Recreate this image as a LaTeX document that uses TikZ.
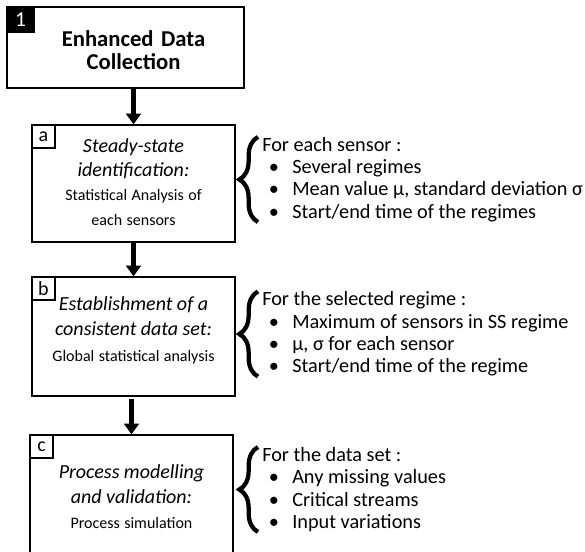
\documentclass[tikz,border=0pt]{standalone}
\usepackage{fontspec}
\setmainfont{Carlito}
\usetikzlibrary{positioning,arrows.meta,decorations.pathreplacing}
\newcommand{\listbullet}{\makebox[22.5pt][l]{\hspace{5pt}\textbullet}}

\begin{document}
\begin{tikzpicture}[
    x=0.75pt, y=-0.75pt,
    stagebox/.style={draw, line width=1pt, rectangle, inner sep=0, minimum width=152.25pt},
    stagetext/.style={align=center, text width=160pt, inner sep=0},
    tagdark/.style={fill=black, text=white, inner sep=0, minimum width=21pt, minimum height=19.5pt, anchor=north west, font=\fontsize{16}{16}\selectfont},
    taglight/.style={draw, line width=1pt, fill=white, inner sep=0, minimum size=17.25pt, anchor=north west, font=\fontsize{15}{15}\selectfont},
    itemlist/.style={align=left, inner sep=0, anchor=west, font=\fontsize{15.2}{16.75}\selectfont},
    bracemark/.style={decorate, decoration={brace, amplitude=14pt}, line width=3.2pt},
    arrow/.style={line width=3.5pt, -{Triangle[width=11pt,length=8pt]}}
]
  \useasboundingbox (0,0) rectangle (585,551);
  \clip (0,0) rectangle (585,551);

  % Boxes
  \node (s1) [stagebox, minimum width=177.75pt, minimum height=60.75pt] at (125.5,47.5) {};
  \node (sa) [stagebox, minimum height=87.75pt] at (133.5,183.5) {};
  \node (sb) [stagebox, minimum height=89.25pt] at (133.5,336.5) {};
  \node (sc) [stagebox, minimum height=93pt] at (131.5,497) {};

  % Tags
  \node (g1) [tagdark] at (s1.north west) {1};
  \node (ga) [taglight] at (sa.north west) {a};
  \node (gb) [taglight] at (sb.north west) {b};
  \node (gc) [taglight] at (sc.north west) {c};

  % Box texts
  \node (t1) [stagetext, font=\bfseries\fontsize{17}{17.25}\selectfont] at (133.5,50.5) {Enhanced Data\\ Collection};
  \node (ta) [stagetext] at (133.5,182) {{\fontsize{15}{18}\selectfont\itshape Steady-state\\ identification:\par}{\fontsize{12}{18.5}\selectfont Statistical Analysis of\\ each sensors\par}};
  \node (tb) [stagetext] at (133.5,330.5) {{\fontsize{15}{18.75}\selectfont\itshape Establishment of a\\ consistent data set:\par}{\fontsize{12}{19.5}\selectfont Global statistical analysis\par}};
  \node (tc) [stagetext] at (131.5,496.5) {{\fontsize{15}{18.75}\selectfont\itshape Process modelling\\ and validation:\par}{\fontsize{12}{18.5}\selectfont Process simulation\par}};

  % Lists
  \node (la) [itemlist] at (262,179.5) {For each sensor :\\ \listbullet Several regimes\\ \listbullet Mean value μ, standard deviation σ\\ \listbullet Start/end time of the regimes};
  \node (lb) [itemlist] at (262,334) {For the selected regime :\\ \listbullet Maximum of sensors in SS regime\\ \listbullet μ, σ for each sensor\\ \listbullet Start/end time of the regime};
  \node (lc) [itemlist] at (262,489.5) {For the data set :\\ \listbullet Any missing values\\ \listbullet Critical streams\\ \listbullet Input variations};

  % Braces
  \draw [bracemark] ([xshift=-3pt]la.south west) -- ([xshift=-3pt]la.north west);
  \draw [bracemark] ([xshift=-3pt]lb.south west) -- ([xshift=-3pt]lb.north west);
  \draw [bracemark] ([xshift=-3pt]lc.south west) -- ([xshift=-3pt]lc.north west);

  % Arrows
  \draw [arrow] (sa.north |- s1.south) -- (sa.north);
  \draw [arrow] (sa.south) -- (sb.north);
  \draw [arrow] ([yshift=-2pt]sc.north |- sb.south) -- (sc.north);
\end{tikzpicture}
\end{document}
